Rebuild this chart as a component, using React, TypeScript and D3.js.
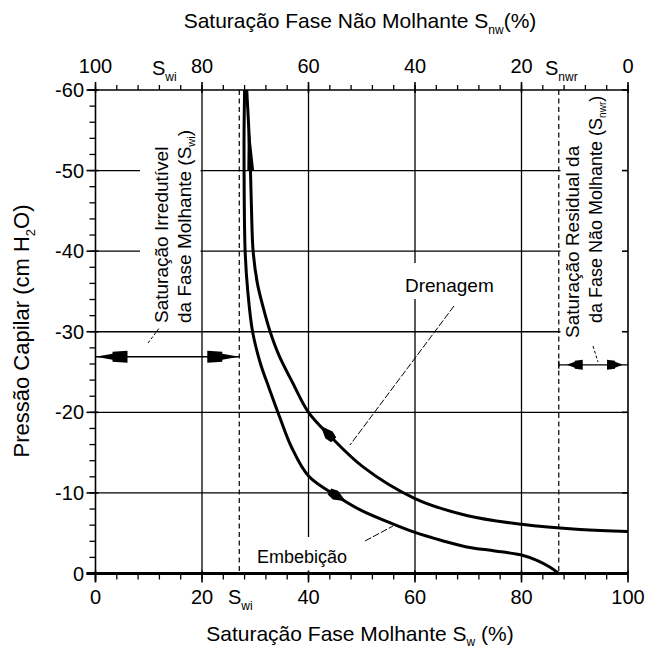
import React from "react";
import * as d3 from "d3";

const W = 648;
const H = 650;
const FONT = "'Liberation Sans', Arial, Helvetica, sans-serif";

// Drainage curve: wetting-phase saturation Sw (%) and capillary pressure (cm H2O)
const drainageSw = [28.4, 28.8, 29.1, 29.3, 29.6, 30.4, 31.5, 32.8, 34.5, 37.0, 40.0, 44.0, 50.3, 60.0, 69.7, 80.0, 91.0, 100];
const drainagePc = [-60, -55, -50, -45, -40, -36, -33, -30, -27, -23.7, -20, -17.1, -13.2, -9.3, -7.2, -6.1, -5.45, -5.2];

// Imbibition curve
const imbibitionSw = [28.0, 27.9, 27.9, 28.1, 28.6, 29.5, 31.0, 32.6, 34.6, 36.8, 40.0, 45.6, 50.0, 55.3, 60.0, 65.0, 69.7, 75.0, 80.0, 83.0, 85.3, 87.0];
const imbibitionPc = [-60, -55, -50, -40, -35, -30, -26, -23, -19.4, -15.7, -12.1, -9.5, -7.8, -6.3, -5.1, -4.1, -3.3, -2.8, -2.3, -1.6, -0.8, 0];

// Characteristic saturations (%)
const swi = 27;
const swMax = 87;
// Pressure level of the two dimension arrows
const swiArrowPc = -26.9;
const snwrArrowPc = -25.9;

// Axis ticks
const swMajor = [0, 20, 40, 60, 80, 100];
const swMinor = d3.range(0, 101, 4);
const pcMajor = [-60, -50, -40, -30, -20, -10, 0];
const pcMinor = d3.range(-60, 1, 2);
const swLabels = ["0", "20", "40", "60", "80", "100"];
const snwLabels = ["100", "80", "60", "40", "20", "0"];
const pcLabels = ["-60", "-50", "-40", "-30", "-20", "-10", "0"];

const x = d3.scaleLinear().domain([0, 100]).range([95.5, 628]);
const y = d3.scaleLinear().domain([-60, 0]).range([90, 573.5]);

const line = d3
  .line<[number, number]>()
  .x((d) => x(d[0]))
  .y((d) => y(d[1]))
  .curve(d3.curveCatmullRom.alpha(0.5));

const pairs = (sw: number[], pc: number[]) => sw.map((s, i) => [s, pc[i]] as [number, number]);

function swAt(sw: number[], pc: number[], p: number) {
  for (let i = 0; i < pc.length - 1; i++) {
    if ((pc[i] - p) * (pc[i + 1] - p) <= 0) {
      const t = (p - pc[i]) / (pc[i + 1] - pc[i]);
      return sw[i] + t * (sw[i + 1] - sw[i]);
    }
  }
  return sw[sw.length - 1];
}

function arrowOnCurve(sw: number[], pc: number[], p: number, toward: number, shape: number[][], key: string) {
  const x1 = x(swAt(sw, pc, p));
  const y1 = y(p);
  const x2 = x(swAt(sw, pc, toward));
  const y2 = y(toward);
  const ang = (Math.atan2(y2 - y1, x2 - x1) * 180) / Math.PI;
  return (
    <polygon
      key={key}
      points={shape.map((q) => q.join(",")).join(" ")}
      transform={`translate(${x1},${y1}) rotate(${ang})`}
      fill="#000"
    />
  );
}

const headShape = [[10, 0], [-2, -5], [-9, -3.5], [-9, 3.5], [-2, 5]];
const longShape = [[28, 0], [-28, -3.4], [-28, 3.4]];

// Dimension arrow: tip at (0,0) pointing along -x
const dimLeft = [[0, 0], [17, -3], [17, -5], [32, -6], [32, 6], [17, 5], [17, 3]];
const dimSmall = [[0, 0], [8, -3], [8, -4], [16, -5], [16, 5], [8, 4], [8, 3]];

export default function App() {
  const x0 = x(0);
  const x100 = x(100);
  const yTop = y(-60);
  const yBot = y(0);
  const gridStroke = 1.3;

  const ySwi = y(swiArrowPc);
  const ySnwr = y(snwrArrowPc);

  return (
    <svg
      width={W}
      height={H}
      viewBox={`0 0 ${W} ${H}`}
      style={{ position: "absolute", left: 0, top: 0, background: "#fff" }}
      fontFamily={FONT}
    >
      <rect x={0} y={0} width={W} height={H} fill="#fff" />

      {/* grid */}
      {swMajor.slice(1, -1).map((v) => (
        <line key={"gv" + v} x1={x(v)} x2={x(v)} y1={yTop} y2={yBot} stroke="#000" strokeWidth={gridStroke} />
      ))}
      {pcMajor.slice(1, -1).map((v) => (
        <line key={"gh" + v} x1={x0} x2={x100} y1={y(v)} y2={y(v)} stroke="#000" strokeWidth={gridStroke} />
      ))}

      {/* white backing for annotations */}
      <rect x={140} y={yTop + 1} width={60.5} height={235} fill="#fff" />
      <rect x={560.5} y={yTop + 1} width={66.5} height={254} fill="#fff" />
      <rect x={400} y={263} width={96} height={36} fill="#fff" />
      <rect x={255} y={537} width={106} height={35} fill="#fff" />

      {/* characteristic saturation lines */}
      <line x1={x(swi)} x2={x(swi)} y1={yTop} y2={yBot} stroke="#000" strokeWidth={1.2} strokeDasharray="5,3.5" />
      <line x1={x(swMax)} x2={x(swMax)} y1={yTop} y2={yBot} stroke="#000" strokeWidth={1.2} strokeDasharray="5,3.5" />

      {/* curves */}
      <path d={line(pairs(drainageSw, drainagePc)) || ""} fill="none" stroke="#000" strokeWidth={3} />
      <path d={line(pairs(imbibitionSw, imbibitionPc)) || ""} fill="none" stroke="#000" strokeWidth={3} />
      {arrowOnCurve(drainageSw, drainagePc, -17.4, -19, headShape, "a1")}
      {arrowOnCurve(drainageSw, drainagePc, -53.5, -58, longShape, "a2")}
      {arrowOnCurve(imbibitionSw, imbibitionPc, -9.6, -8.6, headShape, "a3")}

      {/* Swi dimension */}
      <line x1={x0} x2={x(swi)} y1={ySwi} y2={ySwi} stroke="#000" strokeWidth={1.3} />
      <polygon points={dimLeft.map((q) => q.join(",")).join(" ")} transform={`translate(${x0},${ySwi})`} fill="#000" />
      <polygon points={dimLeft.map((q) => q.join(",")).join(" ")} transform={`translate(${x(swi)},${ySwi}) scale(-1,1)`} fill="#000" />
      <line x1={148} y1={343} x2={160} y2={327} stroke="#000" strokeWidth={1} strokeDasharray="3,2" />

      {/* Snwr dimension */}
      <line x1={x(swMax)} x2={x100} y1={ySnwr} y2={ySnwr} stroke="#000" strokeWidth={1.3} />
      <line x1={x(swMax)} x2={x(swMax)} y1={ySnwr - 4} y2={ySnwr + 4} stroke="#000" strokeWidth={1.3} />
      <polygon points={dimSmall.map((q) => q.join(",")).join(" ")} transform={`translate(${x(swMax) + 8},${ySnwr})`} fill="#000" />
      <polygon points={dimSmall.map((q) => q.join(",")).join(" ")} transform={`translate(${x100 - 5},${ySnwr}) scale(-1,1)`} fill="#000" />
      <line x1={593} y1={346} x2={598} y2={362} stroke="#000" strokeWidth={1} strokeDasharray="3,2" />

      {/* curve labels */}
      <line x1={454} y1={306} x2={350} y2={445} stroke="#000" strokeWidth={1} strokeDasharray="7,2" />
      <line x1={365} y1={541} x2={393} y2={526} stroke="#000" strokeWidth={1} strokeDasharray="7,2" />
      <text x={405} y={292} fontSize={19}>Drenagem</text>
      <text x={257} y={563} fontSize={18}>Embebição</text>

      {/* rotated annotations */}
      <g transform={`translate(168,323) rotate(-90)`} fontSize={19}>
        <text x={0} y={0}>Saturação Irredutível</text>
        <text x={0} y={23}>
          da Fase Molhante (S<tspan fontSize={11} dy={4}>wi</tspan>
          <tspan dy={-4}>)</tspan>
        </text>
      </g>
      <g transform={`translate(579,338) rotate(-90)`}>
        <text x={0} y={0} fontSize={19}>Saturação Residual da</text>
        <text x={15} y={23} fontSize={18}>
          da Fase Não Molhante (S<tspan fontSize={10} dy={4}>nwr</tspan>
          <tspan dy={-4}>)</tspan>
        </text>
      </g>

      {/* axes */}
      <line x1={x0 - 8} x2={x100} y1={yTop} y2={yTop} stroke="#000" strokeWidth={1.6} />
      <line x1={x0 - 9} x2={x100} y1={yBot} y2={yBot} stroke="#000" strokeWidth={3} />
      <line x1={x0} x2={x0} y1={yTop} y2={yBot + 8} stroke="#000" strokeWidth={1.6} />
      <line x1={x100} x2={x100} y1={yTop} y2={yBot} stroke="#000" strokeWidth={1.6} />

      {/* bottom and top ticks */}
      {swMinor.map((v) => (
        <g key={"tx" + v}>
          <line x1={x(v)} x2={x(v)} y1={yBot} y2={yBot + 6} stroke="#000" strokeWidth={1.3} />
          <line x1={x(v)} x2={x(v)} y1={yTop} y2={yTop - 5} stroke="#000" strokeWidth={1.3} />
        </g>
      ))}
      {swMajor.map((v) => (
        <g key={"TX" + v}>
          <line x1={x(v)} x2={x(v)} y1={yBot - 3} y2={yBot + 9} stroke="#000" strokeWidth={1.6} />
          <line x1={x(v)} x2={x(v)} y1={yTop + 3} y2={yTop - 8} stroke="#000" strokeWidth={1.6} />
        </g>
      ))}

      {/* left and right ticks */}
      {pcMinor.map((v) => (
        <line key={"ty" + v} x1={x0} x2={x0 - 6} y1={y(v)} y2={y(v)} stroke="#000" strokeWidth={1.3} />
      ))}
      {pcMajor.map((v) => (
        <g key={"TY" + v}>
          <line x1={x0 + 3} x2={x0 - 9} y1={y(v)} y2={y(v)} stroke="#000" strokeWidth={1.6} />
          <line x1={x100} x2={x100 - 6} y1={y(v)} y2={y(v)} stroke="#000" strokeWidth={1.6} />
        </g>
      ))}

      {/* tick labels */}
      <g fontSize={20} textAnchor="middle">
        {swMajor.map((v, i) => (
          <text key={"lb" + v} x={x(v)} y={604}>{swLabels[i]}</text>
        ))}
        {swMajor.map((v, i) => (
          <text key={"lt" + v} x={x(v)} y={73}>{snwLabels[i]}</text>
        ))}
      </g>
      <g fontSize={20} textAnchor="end">
        {pcMajor.map((v, i) => (
          <text key={"ly" + v} x={84} y={y(v) + 7}>{pcLabels[i]}</text>
        ))}
      </g>

      {/* saturation markers on axes */}
      <text x={228} y={604} fontSize={20}>
        S<tspan fontSize={12} dy={6}>wi</tspan>
      </text>
      <text x={152} y={75} fontSize={20}>
        S<tspan fontSize={12} dy={6}>wi</tspan>
      </text>
      <text x={545} y={75} fontSize={20}>
        S<tspan fontSize={12} dy={6}>nwr</tspan>
      </text>

      {/* axis titles */}
      <text x={360} y={28} fontSize={21} textAnchor="middle">
        Saturação Fase Não Molhante S<tspan fontSize={12} dy={6}>nw</tspan>
        <tspan dy={-6}>(%)</tspan>
      </text>
      <text x={360} y={641} fontSize={21} textAnchor="middle">
        Saturação Fase Molhante S<tspan fontSize={12} dy={5}>w</tspan>
        <tspan dy={-5}> (%)</tspan>
      </text>
      <text transform={`translate(29,331) rotate(-90)`} fontSize={22} textAnchor="middle">
        Pressão Capilar (cm H<tspan fontSize={13} dy={6}>2</tspan>
        <tspan dy={-6}>O)</tspan>
      </text>
    </svg>
  );
}
